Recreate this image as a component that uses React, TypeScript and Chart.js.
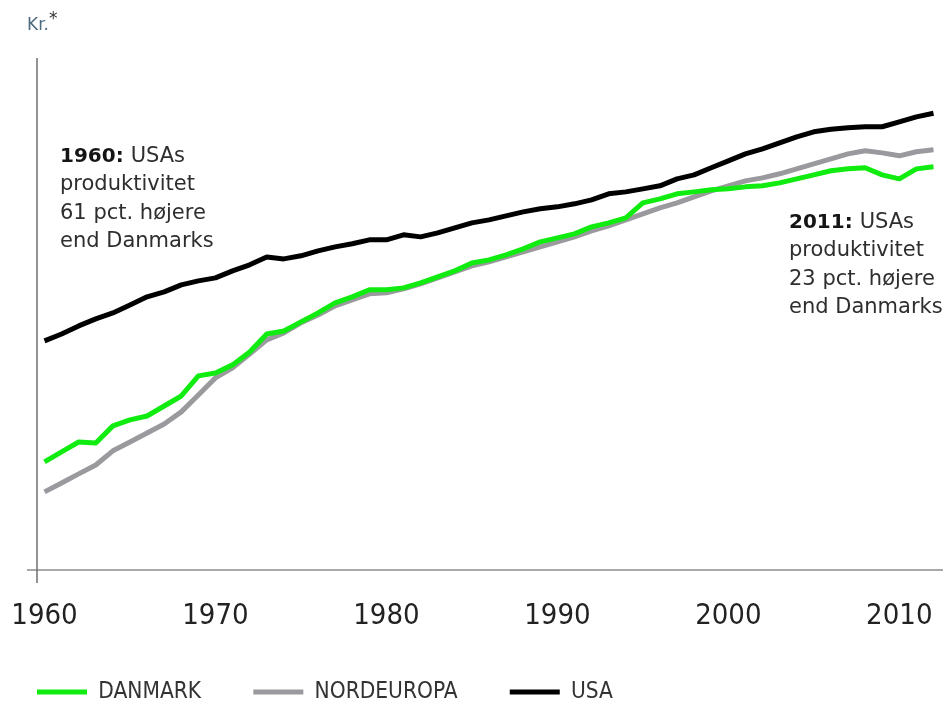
import React, { useEffect, useRef } from 'react';
import { Chart, registerables } from 'chart.js';

Chart.register(...registerables);

const years = [
  1960, 1961, 1962, 1963, 1964, 1965, 1966, 1967, 1968, 1969,
  1970, 1971, 1972, 1973, 1974, 1975, 1976, 1977, 1978, 1979,
  1980, 1981, 1982, 1983, 1984, 1985, 1986, 1987, 1988, 1989,
  1990, 1991, 1992, 1993, 1994, 1995, 1996, 1997, 1998, 1999,
  2000, 2001, 2002, 2003, 2004, 2005, 2006, 2007, 2008, 2009,
  2010, 2011, 2012,
];

const danmark = [
  91.8, 95.5, 99.3, 98.9, 105.8, 108.3, 110.0, 114.4, 119.0, 128.8,
  130.3, 134.5, 141.5, 151.9, 153.7, 159.3, 165.0, 171.7, 175.8, 180.7,
  180.7, 182.1, 185.7, 190.2, 194.7, 200.9, 203.3, 207.4, 212.3, 218.3,
  221.7, 225.2, 231.5, 235.2, 239.9, 254.5, 258.5, 263.7, 265.7, 267.9,
  268.9, 271.0, 272.1, 275.3, 279.7, 284.1, 288.7, 290.9, 292.1, 284.1,
  279.7, 290.9, 293.2,
];

const nordeuropa = [
  81.6, 84.5, 87.6, 90.7, 95.9, 99.3, 102.9, 106.6, 111.8, 119.5,
  127.8, 132.9, 140.4, 148.4, 152.5, 158.7, 163.7, 169.7, 173.7, 177.9,
  178.6, 181.4, 185.0, 189.4, 193.9, 198.6, 201.7, 205.7, 209.8, 214.0,
  218.3, 222.6, 227.9, 232.4, 238.0, 243.7, 249.5, 254.5, 260.6, 266.8,
  272.1, 277.5, 280.8, 285.3, 290.9, 296.7, 302.6, 308.6, 312.3, 309.8,
  306.2, 311.1, 313.5,
];

const usa = [
  147.8, 151.9, 156.8, 161.2, 165.0, 170.3, 175.8, 179.3, 184.3, 187.2,
  189.4, 194.7, 199.4, 205.7, 204.1, 206.6, 210.7, 214.0, 216.6, 220.0,
  220.0, 224.4, 222.6, 226.1, 230.6, 235.2, 238.0, 241.8, 245.6, 248.6,
  250.5, 253.5, 257.5, 263.7, 265.7, 268.9, 272.1, 279.7, 284.1, 292.1,
  300.2, 308.6, 314.8, 322.3, 330.0, 336.6, 339.9, 341.9, 343.3, 343.3,
  350.1, 357.0, 362.0,
];

const seriesLabels = ['DANMARK', 'NORDEUROPA', 'USA'];
const seriesColors = ['#10ec10', '#9a9a9e', '#000000'];

const unitLabel = 'Kr.';
const unitMark = '*';

const note1960Bold = '1960:';
const note1960Lines = ['USAs', 'produktivitet', '61 pct. højere', 'end Danmarks'];
const note2011Bold = '2011:';
const note2011Lines = ['USAs', 'produktivitet', '23 pct. højere', 'end Danmarks'];

const NARROW = '"DejaVu Sans Condensed", "Liberation Sans Narrow", sans-serif';
const NOTE_FONT = '"DejaVu Sans", sans-serif';

function drawNote(ctx: CanvasRenderingContext2D, x: number, y: number, bold: string, lines: string[]) {
  const lh = 28.4;
  ctx.textAlign = 'left';
  ctx.textBaseline = 'alphabetic';
  ctx.font = `bold 20px ${NOTE_FONT}`;
  ctx.fillStyle = '#151515';
  ctx.fillText(bold, x, y);
  const bw = ctx.measureText(bold + ' ').width;
  ctx.font = `21px ${NOTE_FONT}`;
  ctx.fillStyle = '#2e2e2e';
  ctx.fillText(lines[0], x + bw, y);
  for (let i = 1; i < lines.length; i++) {
    ctx.fillText(lines[i], x, y + i * lh);
  }
}

const decorPlugin = {
  id: 'decor',
  beforeDatasetsDraw(chart: any) {
    const { ctx, chartArea: a } = chart;
    ctx.save();
    ctx.lineWidth = 1.5;
    ctx.strokeStyle = '#8c8c8c';
    ctx.beginPath();
    ctx.moveTo(a.left - 10, a.bottom);
    ctx.lineTo(chart.width, a.bottom);
    ctx.stroke();
    ctx.strokeStyle = '#6f6f6f';
    ctx.beginPath();
    ctx.moveTo(a.left, a.top);
    ctx.lineTo(a.left, a.bottom + 13);
    ctx.stroke();
    ctx.restore();
  },
  afterDraw(chart: any) {
    const { ctx, chartArea: a } = chart;
    ctx.save();
    ctx.textAlign = 'left';
    ctx.textBaseline = 'alphabetic';
    ctx.font = `17px ${NOTE_FONT}`;
    ctx.fillStyle = '#4f6b80';
    ctx.fillText(unitLabel, a.left - 10, 30);
    const uw = ctx.measureText(unitLabel).width;
    ctx.fillStyle = '#333333';
    ctx.fillText(unitMark, a.left - 10 + uw, 24);

    drawNote(ctx, a.left + 23, a.top + 104, note1960Bold, note1960Lines);
    drawNote(ctx, a.left + 752, a.top + 170, note2011Bold, note2011Lines);
    ctx.restore();
  },
};

export default function App() {
  const canvasRef = useRef<HTMLCanvasElement | null>(null);

  useEffect(() => {
    document.body.style.margin = '0';
    const canvas = canvasRef.current;
    if (!canvas) return;
    const toPoints = (vals: number[]) => years.map((y, i) => ({ x: y, y: vals[i] }));
    const allSeries = [danmark, nordeuropa, usa];
    const chart = new Chart(canvas, {
      type: 'line',
      data: {
        datasets: allSeries.map((vals, i) => ({
          label: seriesLabels[i],
          data: toPoints(vals),
          borderColor: seriesColors[i],
          backgroundColor: seriesColors[i],
          borderWidth: 5,
          pointRadius: 0,
          pointHoverRadius: 0,
          tension: 0,
          borderJoinStyle: 'round',
          borderCapStyle: 'butt',
          fill: false,
        })),
      },
      options: {
        animation: false,
        responsive: false,
        maintainAspectRatio: false,
        layout: { autoPadding: false, padding: { left: -15.25, right: 0, top: 58, bottom: -12.25 } },
        plugins: {
          tooltip: { enabled: false },
          legend: {
            display: true,
            position: 'bottom',
            align: 'start',
            labels: {
              usePointStyle: true,
              pointStyle: 'line',
              pointStyleWidth: 50,
              padding: 52.25,
              color: '#333333',
              font: { family: NARROW, size: 22.5 },
            },
          },
        },
        scales: {
          x: {
            type: 'linear',
            min: 1959.561,
            max: 2012.556,
            grid: {
              display: true,
              drawOnChartArea: false,
              drawTicks: true,
              tickLength: 27,
              color: 'rgba(0,0,0,0)',
            },
            border: { display: false },
            ticks: {
              stepSize: 10,
              includeBounds: false,
              autoSkip: false,
              maxRotation: 0,
              padding: 2,
              color: '#222222',
              font: { family: NARROW, size: 29 },
              callback: (v: any) => String(v),
            },
            afterFit: (s: any) => { s.height = 58.5; },
          },
          y: {
            type: 'logarithmic',
            min: 60,
            max: 450,
            grid: { display: false, drawTicks: false },
            border: { display: false },
            ticks: { display: false },
            afterFit: (s: any) => { s.width = 52.25; },
          },
        },
      },
      plugins: [decorPlugin],
    } as any);
    return () => chart.destroy();
  }, []);

  return (
    <div style={{ width: 943, height: 701, background: '#ffffff' }}>
      <canvas ref={canvasRef} width={943} height={701} style={{ display: 'block' }} />
    </div>
  );
}
